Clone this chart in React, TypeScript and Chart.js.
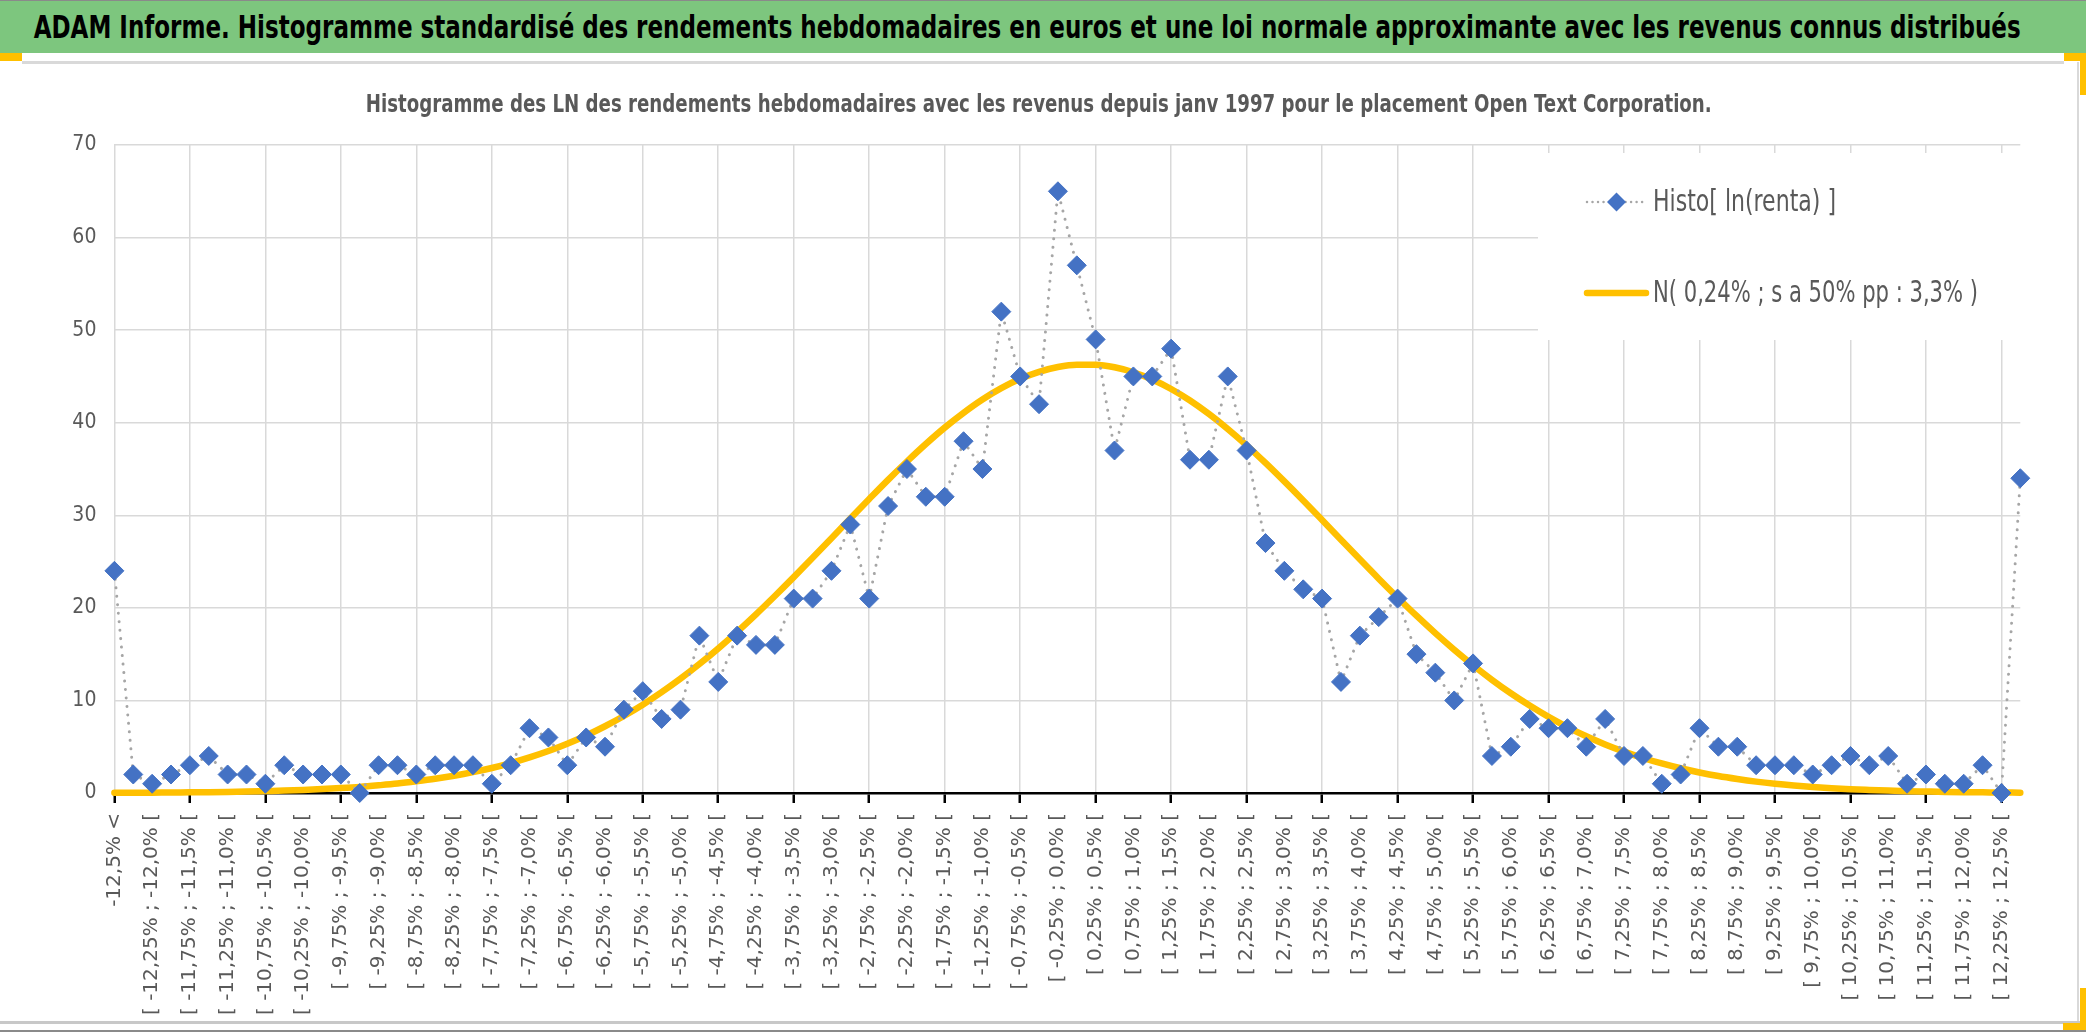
import React, { useEffect, useLayoutEffect, useRef } from 'react';
import { Chart, registerables } from 'chart.js';

Chart.register(...registerables);

const NARROW = '"Liberation Sans Narrow", "Arial Narrow", "DejaVu Sans Condensed", sans-serif';

const mainTitle =
  'ADAM Informe. Histogramme standardisé des rendements hebdomadaires en euros et une loi normale approximante avec les revenus connus distribués';
const subTitle =
  'Histogramme des LN des rendements hebdomadaires avec les revenus depuis janv 1997 pour le placement Open Text Corporation.';

const histoLabel = 'Histo[ ln(renta) ]';
const normalLabel = 'N( 0,24% ; s a 50% pp : 3,3% )';

const categories = [
  '-12,5% <',
  '[ -12,5% ; -12,25% [', '[ -12,25% ; -12,0% [', '[ -12,0% ; -11,75% [', '[ -11,75% ; -11,5% [',
  '[ -11,5% ; -11,25% [', '[ -11,25% ; -11,0% [', '[ -11,0% ; -10,75% [', '[ -10,75% ; -10,5% [',
  '[ -10,5% ; -10,25% [', '[ -10,25% ; -10,0% [', '[ -10,0% ; -9,75% [', '[ -9,75% ; -9,5% [',
  '[ -9,5% ; -9,25% [', '[ -9,25% ; -9,0% [', '[ -9,0% ; -8,75% [', '[ -8,75% ; -8,5% [',
  '[ -8,5% ; -8,25% [', '[ -8,25% ; -8,0% [', '[ -8,0% ; -7,75% [', '[ -7,75% ; -7,5% [',
  '[ -7,5% ; -7,25% [', '[ -7,25% ; -7,0% [', '[ -7,0% ; -6,75% [', '[ -6,75% ; -6,5% [',
  '[ -6,5% ; -6,25% [', '[ -6,25% ; -6,0% [', '[ -6,0% ; -5,75% [', '[ -5,75% ; -5,5% [',
  '[ -5,5% ; -5,25% [', '[ -5,25% ; -5,0% [', '[ -5,0% ; -4,75% [', '[ -4,75% ; -4,5% [',
  '[ -4,5% ; -4,25% [', '[ -4,25% ; -4,0% [', '[ -4,0% ; -3,75% [', '[ -3,75% ; -3,5% [',
  '[ -3,5% ; -3,25% [', '[ -3,25% ; -3,0% [', '[ -3,0% ; -2,75% [', '[ -2,75% ; -2,5% [',
  '[ -2,5% ; -2,25% [', '[ -2,25% ; -2,0% [', '[ -2,0% ; -1,75% [', '[ -1,75% ; -1,5% [',
  '[ -1,5% ; -1,25% [', '[ -1,25% ; -1,0% [', '[ -1,0% ; -0,75% [', '[ -0,75% ; -0,5% [',
  '[ -0,5% ; -0,25% [', '[ -0,25% ; 0,0% [', '[ 0,0% ; 0,25% [', '[ 0,25% ; 0,5% [',
  '[ 0,5% ; 0,75% [', '[ 0,75% ; 1,0% [', '[ 1,0% ; 1,25% [', '[ 1,25% ; 1,5% [',
  '[ 1,5% ; 1,75% [', '[ 1,75% ; 2,0% [', '[ 2,0% ; 2,25% [', '[ 2,25% ; 2,5% [',
  '[ 2,5% ; 2,75% [', '[ 2,75% ; 3,0% [', '[ 3,0% ; 3,25% [', '[ 3,25% ; 3,5% [',
  '[ 3,5% ; 3,75% [', '[ 3,75% ; 4,0% [', '[ 4,0% ; 4,25% [', '[ 4,25% ; 4,5% [',
  '[ 4,5% ; 4,75% [', '[ 4,75% ; 5,0% [', '[ 5,0% ; 5,25% [', '[ 5,25% ; 5,5% [',
  '[ 5,5% ; 5,75% [', '[ 5,75% ; 6,0% [', '[ 6,0% ; 6,25% [', '[ 6,25% ; 6,5% [',
  '[ 6,5% ; 6,75% [', '[ 6,75% ; 7,0% [', '[ 7,0% ; 7,25% [', '[ 7,25% ; 7,5% [',
  '[ 7,5% ; 7,75% [', '[ 7,75% ; 8,0% [', '[ 8,0% ; 8,25% [', '[ 8,25% ; 8,5% [',
  '[ 8,5% ; 8,75% [', '[ 8,75% ; 9,0% [', '[ 9,0% ; 9,25% [', '[ 9,25% ; 9,5% [',
  '[ 9,5% ; 9,75% [', '[ 9,75% ; 10,0% [', '[ 10,0% ; 10,25% [', '[ 10,25% ; 10,5% [',
  '[ 10,5% ; 10,75% [', '[ 10,75% ; 11,0% [', '[ 11,0% ; 11,25% [', '[ 11,25% ; 11,5% [',
  '[ 11,5% ; 11,75% [', '[ 11,75% ; 12,0% [', '[ 12,0% ; 12,25% [', '[ 12,25% ; 12,5% [',
  '>= 12,5%',
];

const histoValues = [
  24, 2, 1, 2, 3, 4, 2, 2, 1, 3,
  2, 2, 2, 0, 3, 3, 2, 3, 3, 3,
  1, 3, 7, 6, 3, 6, 5, 9, 11, 8,
  9, 17, 12, 17, 16, 16, 21, 21, 24, 29,
  21, 31, 35, 32, 32, 38, 35, 52, 45, 42,
  65, 57, 49, 37, 45, 45, 48, 36, 36, 45,
  37, 27, 24, 22, 21, 12, 17, 19, 21, 15,
  13, 10, 14, 4, 5, 8, 7, 7, 5, 8,
  4, 4, 1, 2, 7, 5, 5, 3, 3, 3,
  2, 3, 4, 3, 4, 1, 2, 1, 1, 3,
  0, 34,
];

const normalValues = [
  0.02, 0.03, 0.04, 0.06, 0.07, 0.09, 0.12, 0.16, 0.21, 0.26,
  0.33, 0.42, 0.53, 0.66, 0.83, 1.02, 1.26, 1.53, 1.86, 2.25,
  2.7, 3.23, 3.84, 4.53, 5.32, 6.21, 7.21, 8.32, 9.54, 10.89,
  12.35, 13.93, 15.62, 17.41, 19.3, 21.28, 23.32, 25.41, 27.53, 29.66,
  31.76, 33.83, 35.81, 37.7, 39.47, 41.07, 42.51, 43.73, 44.74, 45.5,
  46.02, 46.27, 46.26, 45.99, 45.45, 44.66, 43.64, 42.4, 40.95, 39.33,
  37.56, 35.66, 33.66, 31.6, 29.49, 27.36, 25.24, 23.15, 21.12, 19.15,
  17.27, 15.48, 13.8, 12.23, 10.77, 9.44, 8.22, 7.12, 6.13, 5.25,
  4.47, 3.78, 3.19, 2.67, 2.22, 1.83, 1.51, 1.23, 1.0, 0.81,
  0.65, 0.52, 0.41, 0.33, 0.26, 0.2, 0.16, 0.12, 0.09, 0.07,
  0.05, 0.04,
];

const yMin = 0;
const yMax = 70;
const yStep = 10;

const CANVAS_TOP = 62;
const CANVAS_W = 2078;
const CANVAS_H = 960;

const boxLegend = {
  id: 'boxLegend',
  beforeDatasetsDraw(chart: any, _args: any, opts: any) {
    const ctx = chart.ctx as CanvasRenderingContext2D;
    ctx.save();
    ctx.fillStyle = '#FFFFFF';
    ctx.fillRect(opts.x, opts.y, opts.w, opts.h);
    chart.data.datasets.forEach((ds: any, i: number) => {
      const yy = opts.rows[i];
      ctx.save();
      ctx.strokeStyle = ds.borderColor;
      ctx.lineWidth = i === 0 ? 2.5 : ds.borderWidth;
      ctx.setLineDash(i === 0 ? [0.01, 5.5] : []);
      ctx.lineCap = 'round';
      ctx.beginPath();
      ctx.moveTo(opts.lineX0, yy);
      ctx.lineTo(i === 0 ? opts.lineX1 - 2 : opts.lineX1, yy);
      ctx.stroke();
      ctx.restore();
      if (ds.pointRadius > 0) {
        const cx = (opts.lineX0 + opts.lineX1) / 2;
        const r = ds.pointRadius;
        ctx.fillStyle = ds.pointBackgroundColor;
        ctx.beginPath();
        ctx.moveTo(cx, yy - r);
        ctx.lineTo(cx + r, yy);
        ctx.lineTo(cx, yy + r);
        ctx.lineTo(cx - r, yy);
        ctx.closePath();
        ctx.fill();
      }
      ctx.fillStyle = '#595959';
      ctx.font = `${opts.fontSize}px ${NARROW}`;
      ctx.textAlign = 'left';
      ctx.textBaseline = 'middle';
      ctx.fillText(ds.label, opts.textX, yy + 1, opts.textW[i]);
    });
    ctx.restore();
  },
};

function FitText(props: { text: string; width: number; style: React.CSSProperties }) {
  const ref = useRef<HTMLSpanElement | null>(null);
  useLayoutEffect(() => {
    const el = ref.current;
    if (!el) return;
    el.style.transform = 'none';
    const w = el.getBoundingClientRect().width;
    if (w > 0) el.style.transform = `scaleX(${props.width / w})`;
  }, [props.text, props.width]);
  return (
    <span
      ref={ref}
      style={{ display: 'inline-block', whiteSpace: 'nowrap', transformOrigin: '50% 50%', ...props.style }}
    >
      {props.text}
    </span>
  );
}

function ChartCanvas() {
  const ref = useRef<HTMLCanvasElement | null>(null);
  useEffect(() => {
    if (!ref.current) return;
    const chart = new Chart(ref.current, {
      type: 'line',
      data: {
        labels: categories,
        datasets: [
          {
            label: histoLabel,
            data: histoValues,
            borderColor: '#A6A6A6',
            borderWidth: 3,
            borderDash: [0.01, 8.5],
            borderCapStyle: 'round',
            pointStyle: 'rectRot',
            pointRadius: 9.5,
            pointBackgroundColor: '#4472C4',
            pointBorderColor: '#4472C4',
            pointBorderWidth: 1,
            tension: 0,
            clip: false,
          } as any,
          {
            label: normalLabel,
            data: normalValues,
            borderColor: '#FFC000',
            borderWidth: 6.5,
            borderCapStyle: 'round',
            pointRadius: 0,
            tension: 0.4,
            cubicInterpolationMode: 'monotone',
            clip: false,
          } as any,
        ],
      },
      options: {
        responsive: false,
        animation: false,
        events: [],
        layout: { padding: { top: 83, right: CANVAS_W - 2020.3, left: 0, bottom: 0 } },
        plugins: {
          legend: { display: false },
          tooltip: { enabled: false },
          title: { display: false },
          boxLegend: {
            x: 1538,
            y: 153 - CANVAS_TOP,
            w: 2024 - 1538,
            h: 340 - 153,
            rows: [202 - CANVAS_TOP, 293 - CANVAS_TOP],
            lineX0: 1587,
            lineX1: 1646,
            textX: 1653,
            textW: [183, 325],
            fontSize: 31,
          },
        } as any,
        scales: {
          x: {
            type: 'category',
            offset: false,
            grid: {
              color: (c: any) => (c.index % 4 === 0 ? '#D9D9D9' : 'rgba(0,0,0,0)'),
              lineWidth: 1.5,
              tickColor: (c: any) => (c.index % 4 === 0 ? '#000000' : 'rgba(0,0,0,0)'),
              tickWidth: 2.5,
              tickLength: 10,
            },
            border: { display: true, color: '#000000', width: 2.5 },
            ticks: {
              autoSkip: false,
              maxRotation: 90,
              minRotation: 90,
              padding: 10,
              color: '#595959',
              font: { family: '"DejaVu Sans", Verdana, sans-serif', size: 20 },
              callback: (_v: any, i: number) => (i % 2 === 0 ? categories[i] : ''),
            },
            afterFit: (s: any) => {
              s.height = CANVAS_H - (793 - CANVAS_TOP);
            },
          },
          y: {
            min: yMin,
            max: yMax,
            ticks: {
              stepSize: yStep,
              padding: 18,
              color: '#595959',
              font: { family: NARROW, size: 21 },
            },
            grid: {
              color: (c: any) => (c.tick && c.tick.value === 0 ? 'rgba(0,0,0,0)' : '#D9D9D9'),
              lineWidth: 1.5,
              drawTicks: false,
            },
            border: { display: false },
            afterFit: (s: any) => {
              s.width = 114.4;
            },
          },
        },
      } as any,
      plugins: [boxLegend as any],
    });
    return () => chart.destroy();
  }, []);
  return (
    <canvas
      ref={ref}
      width={CANVAS_W}
      height={CANVAS_H}
      style={{ position: 'absolute', left: 0, top: CANVAS_TOP, width: CANVAS_W, height: CANVAS_H }}
    />
  );
}

export default function App() {
  const orange = '#FFC000';
  return (
    <div
      style={{
        position: 'absolute',
        left: 0,
        top: 0,
        width: 2086,
        height: 1032,
        background: '#FFFFFF',
        overflow: 'hidden',
        fontFamily: NARROW,
      }}
    >
      <div
        style={{
          position: 'absolute',
          left: 0,
          top: 0,
          width: 2086,
          height: 53,
          background: '#7DC67E',
          borderTop: '1px solid #8A8A8A',
          boxSizing: 'border-box',
        }}
      />
      <div
        style={{
          position: 'absolute',
          left: 1027 - 1500,
          top: 3,
          width: 3000,
          height: 48,
          lineHeight: '48px',
          textAlign: 'center',
          color: '#000000',
          fontWeight: 'bold',
          fontSize: 32,
        }}
      >
        <FitText text={mainTitle} width={1987} style={{}} />
      </div>
      <div style={{ position: 'absolute', left: 22, top: 61, width: 2042, height: 3, background: '#D9D9D9' }} />
      <div style={{ position: 'absolute', left: 2077, top: 62, width: 2, height: 960, background: '#D9D9D9' }} />
      <div style={{ position: 'absolute', left: 0, top: 1021, width: 2086, height: 3, background: '#C8C8C8' }} />
      <div style={{ position: 'absolute', left: 0, top: 1030, width: 2086, height: 2, background: '#8A8A8A' }} />
      <ChartCanvas />
      <div
        style={{
          position: 'absolute',
          left: 1039 - 1000,
          top: 87,
          width: 2000,
          height: 34,
          lineHeight: '34px',
          textAlign: 'center',
          color: '#595959',
          fontWeight: 'bold',
          fontSize: 25,
        }}
      >
        <FitText text={subTitle} width={1346} style={{}} />
      </div>
      <div style={{ position: 'absolute', left: 0, top: 53, width: 22, height: 8, background: orange }} />
      <div style={{ position: 'absolute', left: 2064, top: 53, width: 22, height: 8, background: orange }} />
      <div style={{ position: 'absolute', left: 2080, top: 53, width: 6, height: 42, background: orange }} />
      <div style={{ position: 'absolute', left: 2080, top: 988, width: 6, height: 42, background: orange }} />
      <div style={{ position: 'absolute', left: 2063, top: 1023, width: 23, height: 7, background: orange }} />
    </div>
  );
}
